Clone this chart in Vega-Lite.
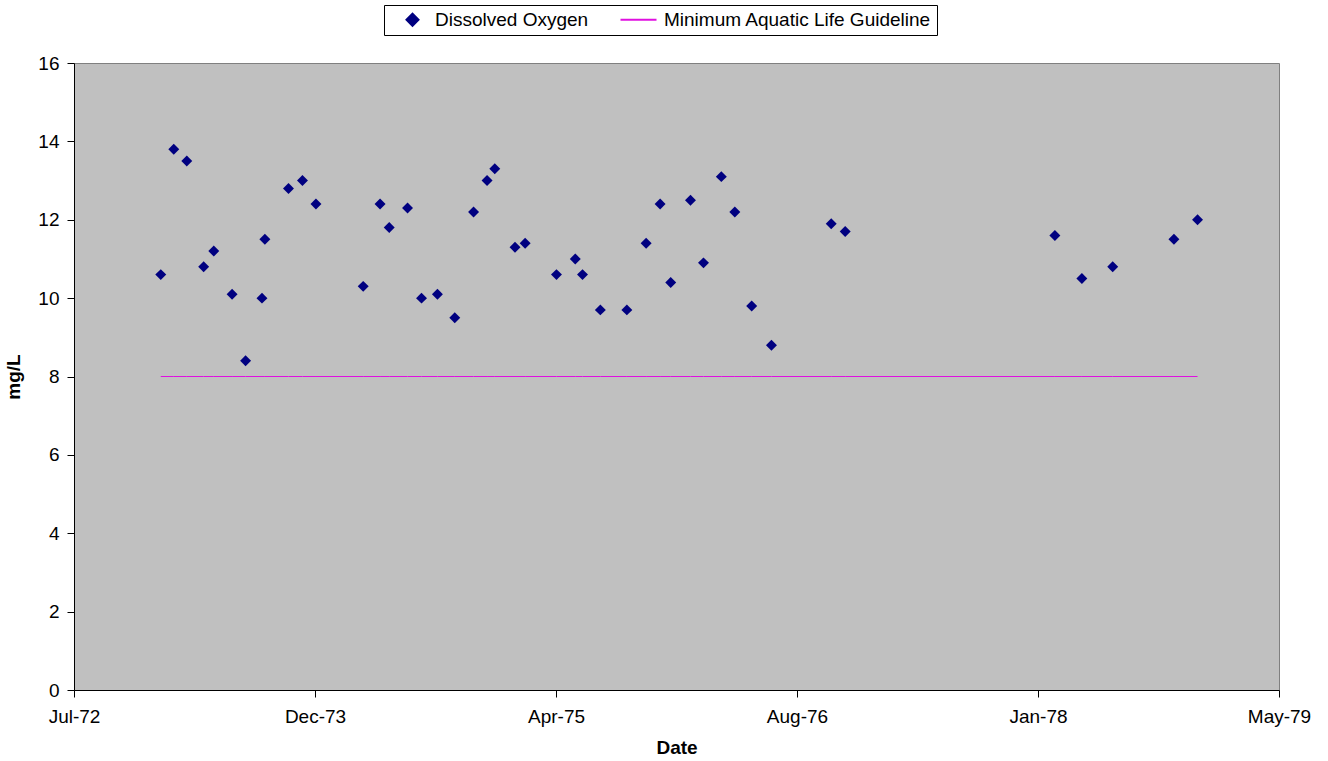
{
  "$schema": "https://vega.github.io/schema/vega-lite/v6.json",
  "width": 1205,
  "height": 627,
  "autosize": "none",
  "padding": {"left": 74, "top": 63, "right": 49, "bottom": 71},
  "background": "white",
  "config": {
    "font": "Liberation Sans",
    "view": {"fill": "#C0C0C0", "stroke": "#808080", "strokeWidth": 1},
    "axis": {
      "domainColor": "black",
      "tickColor": "black",
      "labelColor": "black",
      "titleColor": "black",
      "labelFont": "Liberation Sans",
      "titleFont": "Liberation Sans",
      "labelFontSize": 19,
      "titleFontSize": 19,
      "titleFontWeight": "bold",
      "tickSize": 7,
      "grid": false,
      "labelPadding": 8
    }
  },
  "data": {
    "values": [
      {"date": "1973-01-16", "oxygen": 10.6, "guideline": 8},
      {"date": "1973-02-12", "oxygen": 13.8, "guideline": 8},
      {"date": "1973-03-11", "oxygen": 13.5, "guideline": 8},
      {"date": "1973-04-15", "oxygen": 10.8, "guideline": 8},
      {"date": "1973-05-06", "oxygen": 11.2, "guideline": 8},
      {"date": "1973-06-13", "oxygen": 10.1, "guideline": 8},
      {"date": "1973-07-11", "oxygen": 8.4, "guideline": 8},
      {"date": "1973-08-14", "oxygen": 10.0, "guideline": 8},
      {"date": "1973-08-20", "oxygen": 11.5, "guideline": 8},
      {"date": "1973-10-08", "oxygen": 12.8, "guideline": 8},
      {"date": "1973-11-06", "oxygen": 13.0, "guideline": 8},
      {"date": "1973-12-04", "oxygen": 12.4, "guideline": 8},
      {"date": "1974-03-12", "oxygen": 10.3, "guideline": 8},
      {"date": "1974-04-16", "oxygen": 12.4, "guideline": 8},
      {"date": "1974-05-05", "oxygen": 11.8, "guideline": 8},
      {"date": "1974-06-12", "oxygen": 12.3, "guideline": 8},
      {"date": "1974-07-11", "oxygen": 10.0, "guideline": 8},
      {"date": "1974-08-13", "oxygen": 10.1, "guideline": 8},
      {"date": "1974-09-18", "oxygen": 9.5, "guideline": 8},
      {"date": "1974-10-27", "oxygen": 12.2, "guideline": 8},
      {"date": "1974-11-24", "oxygen": 13.0, "guideline": 8},
      {"date": "1974-12-10", "oxygen": 13.3, "guideline": 8},
      {"date": "1975-01-21", "oxygen": 11.3, "guideline": 8},
      {"date": "1975-02-11", "oxygen": 11.4, "guideline": 8},
      {"date": "1975-04-17", "oxygen": 10.6, "guideline": 8},
      {"date": "1975-05-26", "oxygen": 11.0, "guideline": 8},
      {"date": "1975-06-10", "oxygen": 10.6, "guideline": 8},
      {"date": "1975-07-17", "oxygen": 9.7, "guideline": 8},
      {"date": "1975-09-10", "oxygen": 9.7, "guideline": 8},
      {"date": "1975-10-20", "oxygen": 11.4, "guideline": 8},
      {"date": "1975-11-18", "oxygen": 12.4, "guideline": 8},
      {"date": "1975-12-10", "oxygen": 10.4, "guideline": 8},
      {"date": "1976-01-20", "oxygen": 12.5, "guideline": 8},
      {"date": "1976-02-16", "oxygen": 10.9, "guideline": 8},
      {"date": "1976-03-24", "oxygen": 13.1, "guideline": 8},
      {"date": "1976-04-21", "oxygen": 12.2, "guideline": 8},
      {"date": "1976-05-26", "oxygen": 9.8, "guideline": 8},
      {"date": "1976-07-06", "oxygen": 8.8, "guideline": 8},
      {"date": "1976-11-07", "oxygen": 11.9, "guideline": 8},
      {"date": "1976-12-06", "oxygen": 11.7, "guideline": 8},
      {"date": "1978-02-14", "oxygen": 11.6, "guideline": 8},
      {"date": "1978-04-11", "oxygen": 10.5, "guideline": 8},
      {"date": "1978-06-14", "oxygen": 10.8, "guideline": 8},
      {"date": "1978-10-19", "oxygen": 11.5, "guideline": 8},
      {"date": "1978-12-07", "oxygen": 12.0, "guideline": 8}
    ]
  },
  "encoding": {
    "x": {
      "field": "date",
      "type": "temporal",
      "scale": {
        "domain": [
          {"year": 1972, "month": 7, "date": 20},
          {"year": 1979, "month": 5, "date": 25}
        ]
      },
      "axis": {
        "title": "Date",
        "format": "%b-%y",
        "values": [
          {"year": 1972, "month": 7, "date": 20},
          {"year": 1973, "month": 12, "date": 2},
          {"year": 1975, "month": 4, "date": 16},
          {"year": 1976, "month": 8, "date": 28},
          {"year": 1978, "month": 1, "date": 10},
          {"year": 1979, "month": 5, "date": 25}
        ],
        "labelFlush": false,
        "labelOverlap": false,
        "labelBound": false,
        "labelPadding": 10,
        "titlePadding": 12
      }
    }
  },
  "layer": [
    {
      "mark": {"type": "line", "color": "#E010E0", "strokeWidth": 1},
      "encoding": {
        "y": {
          "field": "guideline",
          "type": "quantitative",
          "scale": {"domain": [0, 16], "nice": false},
          "axis": {
            "title": "mg/L",
            "values": [0, 2, 4, 6, 8, 10, 12, 14, 16],
            "titlePadding": 14
          }
        },
        "color": {
          "datum": "Minimum Aquatic Life Guideline",
          "scale": {
            "domain": ["Dissolved Oxygen", "Minimum Aquatic Life Guideline"],
            "range": ["#000080", "#E010E0"]
          },
          "legend": {
            "orient": "none",
            "legendX": 310,
            "legendY": -58,
            "direction": "horizontal",
            "title": null,
            "fillColor": "white",
            "strokeColor": "black",
            "padding": 5,
            "labelFontSize": 19,
            "labelFont": "Liberation Sans",
            "labelColor": "black",
            "labelLimit": 500,
            "symbolSize": 144,
            "columnPadding": 27,
            "labelOffset": 13,
            "symbolOffset": 14,
            "encode": {
              "symbols": {
                "update": {
                  "shape": {"signal": "datum.value === 'Dissolved Oxygen' ? 'diamond' : 'M-3.5,0H2.5'"},
                  "fill": {"signal": "datum.value === 'Dissolved Oxygen' ? '#000080' : 'transparent'"},
                  "stroke": {"signal": "datum.value === 'Dissolved Oxygen' ? 'transparent' : '#FF80FF'"},
                  "strokeWidth": {"value": 2},
                  "opacity": {"value": 1}
                }
              }
            }
          }
        }
      }
    },
    {
      "mark": {"type": "point", "shape": "diamond", "filled": true, "size": 120, "opacity": 1},
      "encoding": {
        "y": {"field": "oxygen", "type": "quantitative"},
        "color": {"datum": "Dissolved Oxygen"}
      }
    }
  ]
}
